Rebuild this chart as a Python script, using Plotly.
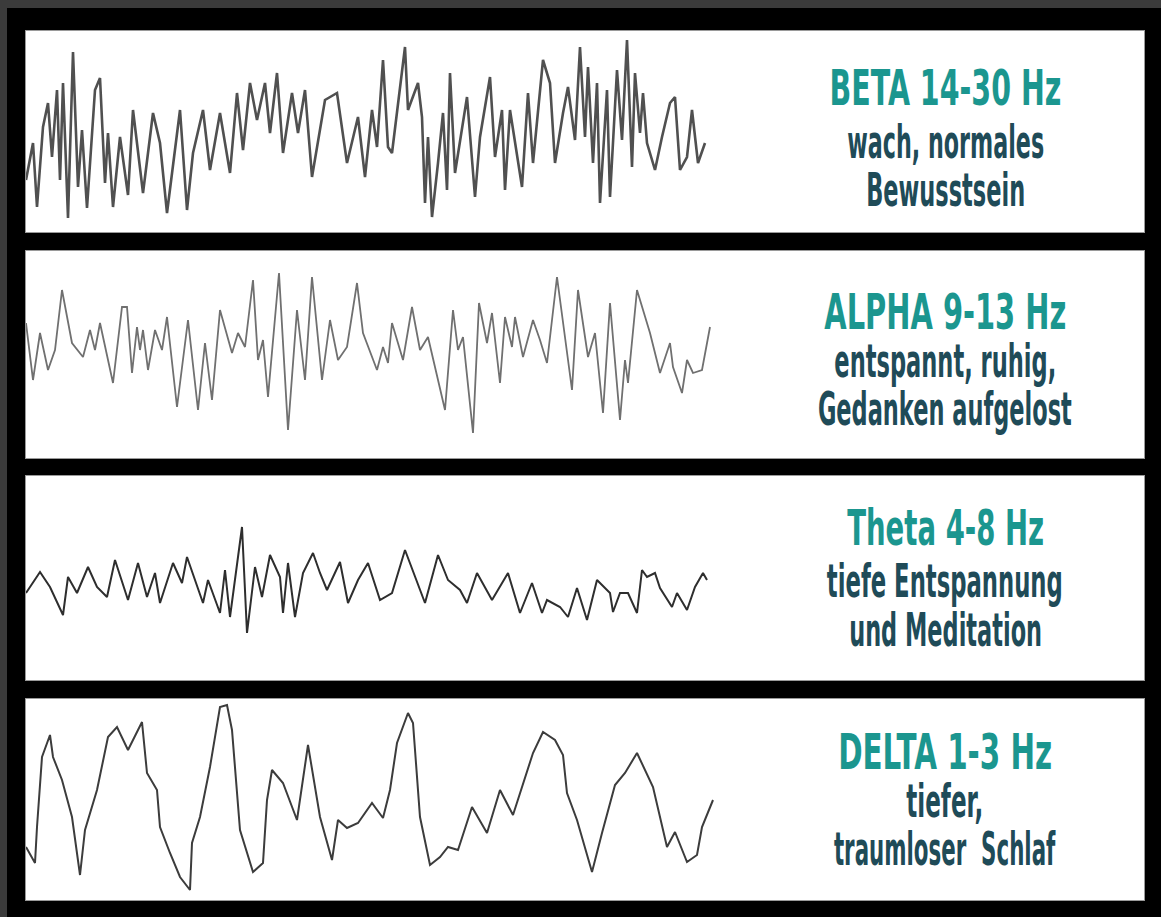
import json
import plotly.graph_objects as go

# ---------------- data (time units, amplitude relative to baseline) ----------------
beta_t = [0, 7, 11, 17, 22, 26, 31, 34, 37, 42, 47, 52, 56, 61, 69, 74, 79, 82, 87, 94,
          102, 107, 117, 127, 134, 141, 154, 161, 167, 177, 184, 194, 204, 211, 217, 224,
          231, 239, 244, 251, 257, 266, 272, 279, 286, 299, 311, 321, 332, 339, 346, 351,
          357, 362, 366, 372, 379, 382, 392, 396, 399, 402, 406, 412, 417, 421, 424, 429,
          434, 441, 449, 454, 464, 469, 476, 479, 484, 496, 502, 507, 517, 524, 529, 537,
          542, 549, 554, 559, 562, 567, 571, 574, 581, 584, 591, 596, 601, 606, 609, 614,
          617, 621, 629, 636, 644, 649, 654, 661, 666, 672, 679]
beta_v = [-49, -12, -76, 4, 28, -26, 41, -49, 48, -87, 79, -56, 1, -77, 41, 53, -52, -2, -76, -6,
          -64, 21, -62, 18, -12, -82, 21, -79, -22, 21, -39, 18, -42, 38, -19, 48,
          11, 48, -2, 58, -22, 38, -2, 41, -46, 31, 38, -32, 14, -46, 21, -16,
          71, -16, -22, 28, 84, 21, 48, 14, -72, -6, -86, -32, 18, -59, 58, -42,
          -9, 34, -66, -6, 54, -26, 21, -59, 21, -56, 38, -32, 71, 48, -32, 18,
          44, -9, 84, -6, 64, -32, 48, -72, 41, -66, 61, -9, 91, -36, 58, -2,
          38, -12, -39, -6, 28, 34, -39, -26, 21, -32, -12]

alpha_t = [0, 7, 14, 22, 29, 36, 46, 57, 64, 69, 74, 87, 96, 101, 106, 111, 114, 117, 122, 129,
           136, 141, 151, 162, 172, 179, 186, 194, 206, 212, 219, 227, 232, 237, 242, 253,
           262, 271, 279, 286, 296, 304, 312, 321, 331, 337, 351, 357, 362, 366, 377, 386,
           394, 402, 419, 427, 432, 437, 447, 453, 461, 466, 474, 479, 486, 489, 497, 507,
           514, 521, 531, 537, 546, 552, 562, 569, 577, 584, 594, 599, 602, 611, 624, 634,
           644, 647, 656, 661, 667, 676, 684]
alpha_v = [31, -26, 21, -16, 4, 64, 11, -3, 24, 4, 31, -29, 47, 47, -19, 27, 4, 24, -16, 24,
           4, 37, -53, 34, -56, 11, -46, 44, 1, 21, 7, 74, -6, 14, -43, 81,
           -76, 44, -26, 77, -26, 34, -6, 7, 71, 21, -16, 7, -9, 31, -6, 47,
           4, 17, -56, 44, 4, 17, -79, 51, 11, 41, -29, 37, 7, 37, -3, 34,
           14, -9, 77, 31, -36, 64, -3, 21, -59, 51, -66, -6, -29, 64, 21, -19,
           11, -13, -39, -6, -19, -16, 27]

theta_t = [0, 14, 24, 37, 42, 51, 62, 71, 81, 89, 102, 112, 121, 129, 134, 147, 156, 161, 177, 182,
           194, 199, 204, 211, 216, 221, 229, 236, 244, 254, 257, 262, 269, 277, 287, 294,
           301, 314, 322, 332, 342, 354, 366, 379, 399, 412, 422, 434, 441, 451, 466, 482,
           494, 506, 516, 521, 534, 542, 551, 561, 571, 584, 587, 594, 602, 611, 616, 621,
           629, 634, 646, 651, 661, 669, 677, 681]
theta_v = [-15, 6, -9, -37, 1, -15, 11, -9, -19, 18, -22, 15, -19, 5, -25, 15, -5, 21, -25, -2,
           -35, 8, -39, 15, 51, -55, 11, -19, 23, 1, -35, 15, -39, 5, 25, 5,
           -12, 16, -25, -2, 15, -22, -15, 28, -25, 23, -2, -12, -25, 5, -22, 5,
           -35, -5, -35, -22, -29, -39, -10, -42, -2, -15, -34, -15, -15, -35, 8, 1,
           5, -10, -29, -15, -32, -9, 5, -2]

delta_t = [0, 9, 11, 16, 24, 27, 36, 46, 54, 59, 71, 82, 91, 102, 116, 121, 131, 134, 144, 154,
           164, 166, 174, 184, 194, 201, 206, 214, 227, 237, 241, 246, 257, 271, 282, 294,
           306, 312, 321, 332, 346, 357, 364, 371, 382, 387, 394, 404, 414, 422, 432, 446,
           461, 474, 487, 501, 507, 517, 529, 537, 541, 551, 566, 576, 589, 599, 611, 627,
           641, 649, 661, 671, 676, 687]
delta_v = [-47, -63, -27, 43, 65, 43, 20, -17, -75, -30, 10, 63, 73, 50, 78, 27, 10, -27, -53, -77,
           -90, -43, -17, 33, 93, 95, 70, -30, -72, -63, 0, 30, 17, -20, 55, -17,
           -60, -20, -28, -23, -3, -18, 10, 57, 87, 77, -17, -65, -57, -47, -50, -7,
           -33, 10, -15, 27, 47, 68, 60, 45, 7, -20, -72, -33, 15, 27, 47, 13,
           -47, -32, -62, -55, -27, 0]

band_titles = ["BETA 14-30 Hz", "ALPHA 9-13 Hz", "Theta 4-8 Hz", "DELTA 1-3 Hz"]
band_descriptions = [["wach, normales", "Bewusstsein"],
                     ["entspannt, ruhig,", "Gedanken aufgelost"],
                     ["tiefe Entspannung", "und Meditation"],
                     ["tiefer,", "traumloser  Schlaf"]]

# ---------------- layout ----------------
W, H = 1161, 917
waves = [(beta_t, beta_v), (alpha_t, alpha_v), (theta_t, theta_v), (delta_t, delta_v)]
line_styles = [dict(color="#505050", width=2.6),
               dict(color="#707070", width=1.8),
               dict(color="#2e2e2e", width=2.0),
               dict(color="#3c3c3c", width=2.0)]
panels = [(31, 232, 131), (251, 458, 354), (476, 680, 578), (699, 900, 800)]
title_rows = [88, 312, 528, 752]
desc_rows = [[142, 190], [361, 409], [581, 630], [801, 849]]
title_widths = [232, 242, 197, 214]
desc_widths = [[197, 159], [222, 254], [236, 193], [77, 222]]
x_left, x_right = 26, 1144
text_cx = 945
FONT = "DejaVu Sans, Roboto, sans-serif"

fig = go.Figure()
layout = dict(width=W, height=H, margin=dict(l=0, r=0, t=0, b=0),
              paper_bgcolor="#000000", plot_bgcolor="#ffffff", showlegend=False,
              autosize=False)
annotations = []
target_widths = []
for i, ((t, v), ls, (top, bot, base)) in enumerate(zip(waves, line_styles, panels)):
    n = "" if i == 0 else str(i + 1)
    fig.add_trace(go.Scatter(x=t, y=v, mode="lines", line=dict(**ls, shape="linear"),
                             xaxis="x" + n, yaxis="y" + n, hoverinfo="skip"))
    layout["xaxis" + n] = dict(domain=[x_left / W, x_right / W], range=[0, x_right - x_left],
                               showgrid=False, zeroline=False, showticklabels=False,
                               showline=True, linecolor="#9a9a9a", linewidth=1, mirror=True,
                               ticks="", fixedrange=True, anchor="y" + n)
    layout["yaxis" + n] = dict(domain=[1 - bot / H, 1 - top / H], range=[base - bot, base - top],
                               showgrid=False, zeroline=False, showticklabels=False,
                               showline=True, linecolor="#9a9a9a", linewidth=1, mirror=True,
                               ticks="", fixedrange=True, anchor="x" + n)
    annotations.append(dict(text="<b>%s</b>" % band_titles[i], xref="paper", yref="paper",
                            x=text_cx / W, y=1 - title_rows[i] / H, xanchor="center",
                            yanchor="middle", showarrow=False,
                            font=dict(family=FONT, size=50, color="#1b968f")))
    target_widths.append(title_widths[i])
    for j, d in enumerate(band_descriptions[i]):
        annotations.append(dict(text="<b>%s</b>" % d, xref="paper", yref="paper",
                                x=text_cx / W, y=1 - desc_rows[i][j] / H, xanchor="center",
                                yanchor="middle", showarrow=False,
                                font=dict(family=FONT, size=46, color="#1f4b58")))
        target_widths.append(desc_widths[i][j])
layout["annotations"] = annotations
layout["shapes"] = [
    dict(type="rect", xref="paper", yref="paper", x0=0, x1=1, y0=1 - 8 / H, y1=1,
         fillcolor="#3b3b3b", line=dict(width=0), layer="below"),
    dict(type="rect", xref="paper", yref="paper", x0=0, x1=7 / W, y0=0, y1=1,
         fillcolor="#3b3b3b", line=dict(width=0), layer="below"),
]
fig.update_layout(**layout)

# condensed look of the label typeface: squeeze each label horizontally to its width
js = """
document.body.style.margin='0';document.body.style.overflow='hidden';
(function(){
  var widths = %s;
  function squeeze(){
    var els = document.querySelectorAll('.annotation-text');
    els.forEach(function(e, k){
      if (k >= widths.length) return;
      e.style.transform = '';
      var bb = e.getBBox();
      if (!bb.width) return;
      var s = widths[k] / bb.width;
      e.style.transformBox = 'fill-box';
      e.style.transformOrigin = 'center';
      e.style.transform = 'scale(' + s + ',1)';
    });
  }
  squeeze();
  var gd = document.getElementById('{plot_id}');
  if (gd && gd.on) { gd.on('plotly_afterplot', squeeze); }
  setTimeout(squeeze, 50);
})();
""" % json.dumps(target_widths)
fig.write_html("out.html", config=dict(displayModeBar=False), post_script=js)
